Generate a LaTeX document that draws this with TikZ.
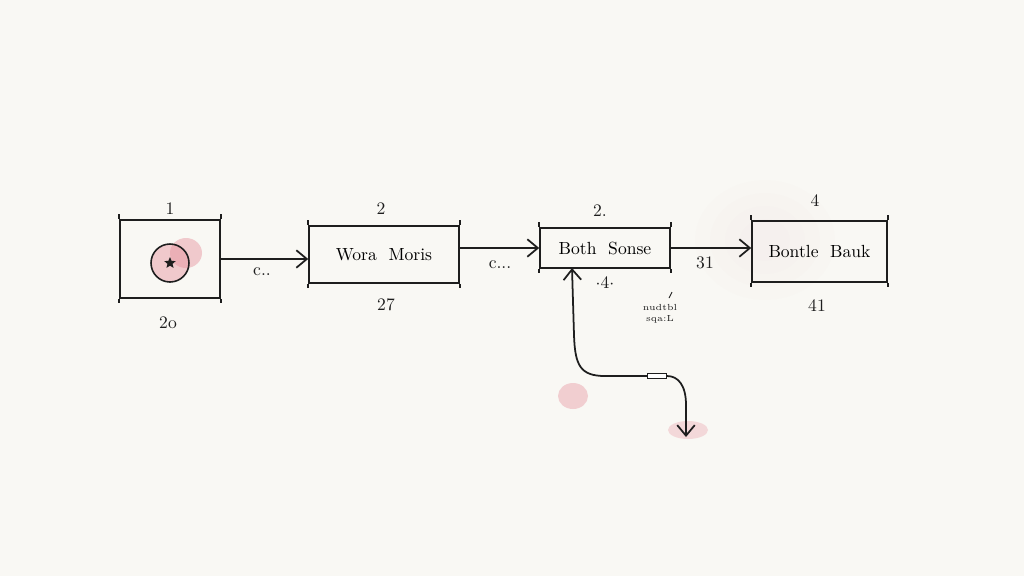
\documentclass[tikz,border=0pt]{standalone}
\usetikzlibrary{arrows.meta,calc,shapes.geometric}
\definecolor{bg}{HTML}{F9F8F4}
\definecolor{ink}{HTML}{1E1E1E}
\definecolor{blush}{HTML}{E7909C}
\tikzset{
  box/.style={draw=ink, line width=0.9pt, inner sep=0pt, font=\normalsize},
  arr/.style={draw=ink, line width=1pt, -{Straight Barb[length=6pt,width=10pt,line width=1pt]}},
  lbl/.style={text=ink, font=\normalsize},
  small/.style={text=ink, font=\tiny, align=center, inner sep=0pt}
}
\begin{document}
\begin{tikzpicture}[x=0.02cm,y=-0.02cm]
\fill[bg] (0,0) rectangle (1024,576);
\useasboundingbox (0,0) rectangle (1024,576);
% soft pink washes
\foreach \r/\s in {70/60,55/47,40/34,25/21}{
  \fill[blush, opacity=0.012] (765,240) circle [x radius=\r, y radius=\s];
}
\fill[blush, opacity=0.45] (186,253) ellipse (16 and 15);
\fill[blush, opacity=0.40] (573,396) ellipse (15 and 13);
\fill[blush, opacity=0.30] (688,430) ellipse (20 and 9);
% boxes
\node[box, minimum width=2cm, minimum height=1.56cm] (b1) at (170,259) {};
\node[box, minimum width=3cm, minimum height=1.14cm] (b2) at (384,254.5) {Wora\ \ Moris};
\node[box, minimum width=2.6cm, minimum height=0.8cm] (b3) at (605,248) {Both\ \ Sonse};
\node[box, minimum width=2.7cm, minimum height=1.22cm] (b4) at (819.5,251.5) {Bontle\ \ Bauk};
\foreach \b in {b1,b2,b3,b4}{
  \draw[ink, line width=0.9pt] (\b.north west) -- ++(0,-5);
  \draw[ink, line width=0.9pt] (\b.north east) -- ++(0,-5);
  \draw[ink, line width=0.9pt] (\b.south west) -- ++(0,4);
  \draw[ink, line width=0.9pt] (\b.south east) -- ++(0,4);
}
% circle in box 1
\node[draw=ink, line width=0.9pt, circle, minimum size=0.76cm, fill=blush, fill opacity=0.45] (c1) at (170,263) {};
\node[star, star points=5, star point ratio=2.2, fill=ink, inner sep=0pt, minimum size=0.24cm] (st) at (c1.center) {};
% labels
\node[lbl] (l1) at (170,209) {1};
\node[lbl] (l2) at (168,323) {2o};
\node[lbl] (l3) at (381,209) {2};
\node[lbl] (l4) at (386,305) {27};
\node[lbl] (l5) at (600,211) {2.};
\node[lbl] (l6) at (605,283) {$\cdot$4$\cdot$};
\node[lbl] (l7) at (815,201) {4};
\node[lbl] (l8) at (817,306) {41};
\node[lbl] (a1l) at (262,272) {c..};
\node[lbl] (a2l) at (500,265) {c...};
\node[lbl] (a3l) at (705,263) {31};
\node[small] (note) at (660,314) {nudtbl\\sqa:L};
\coordinate (nt) at (672,292);
\draw[ink, line width=0.5pt] (nt) -- ++(-3,6);
% arrows
\draw[arr] (b1.east) -- (b1.east -| b2.west);
\draw[arr] (b2.east |- b3.west) -- (b3.west);
\draw[arr] (b3.east) -- (b3.east -| b4.west);
% link
\node[draw=ink, line width=0.6pt, fill=white, minimum width=0.38cm, minimum height=0.1cm, inner sep=0pt] (lnk) at (657,376) {};
\coordinate (up) at (572,268);
\coordinate (dn) at (686,437);
\draw[arr] (lnk.west) -- (605,376) .. controls (580,376) and (575,365) .. (574,335) -- (up);
\draw[arr] (lnk.east) .. controls (678,376) and (686,385) .. (686,405) -- (dn);
\end{tikzpicture}
\end{document}
